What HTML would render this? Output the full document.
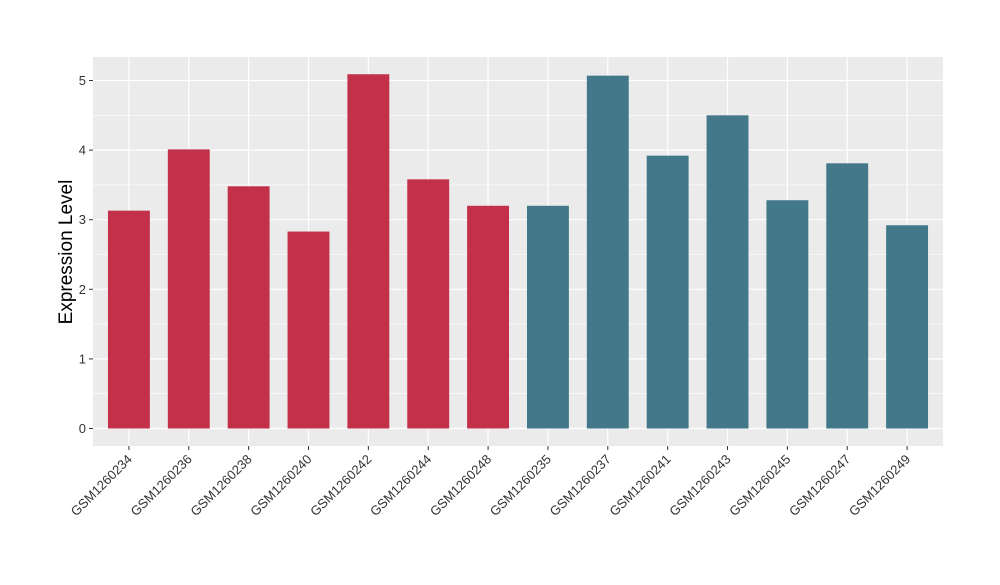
<!DOCTYPE html>
<html><head><meta charset="utf-8"><style>
body{margin:0;background:#fff;}
svg text{font-family:"Liberation Sans",Arial,sans-serif;}
</style></head><body>
<svg id="chart" width="1000" height="580" xmlns="http://www.w3.org/2000/svg">
<rect x="93" y="57" width="850" height="389" fill="#EBEBEB"/>
<g id="grid"></g><g id="bars"></g><g id="axes"></g>
<text x="72" y="252" font-size="19" text-anchor="middle" transform="rotate(-90 72 252)" fill="#000">Expression Level</text>
</svg>
<script>
const categories=["GSM1260234","GSM1260236","GSM1260238","GSM1260240","GSM1260242","GSM1260244","GSM1260248","GSM1260235","GSM1260237","GSM1260241","GSM1260243","GSM1260245","GSM1260247","GSM1260249"];
const values=[3.13,4.01,3.48,2.83,5.09,3.58,3.20,3.20,5.07,3.92,4.50,3.28,3.81,2.92];
const groups=["a","a","a","a","a","a","a","b","b","b","b","b","b","b"];
const yTicks=[0,1,2,3,4,5];
const colors={a:"#C3304A",b:"#42788A"};
const NS="http://www.w3.org/2000/svg";
const px0=93,px1=943,py0=57,py1=446;
const band=(px1-px0)/(categories.length-1+1.2);
function xs(i){return px0+(0.6+i)*band;}
function ys(v){return 428.5-v*69.6;}
function mk(t,a,p){const e=document.createElementNS(NS,t);for(const k in a)e.setAttribute(k,a[k]);p.appendChild(e);return e;}
const grid=document.getElementById('grid'),bars=document.getElementById('bars'),axes=document.getElementById('axes');
for(let k=0;k<yTicks.length;k++){
 const v=yTicks[k];
 if(k<yTicks.length){const ym=ys(v+0.5);if(ym>py0){const m=mk('line',{x1:px0,x2:px1,y1:ym,y2:ym,stroke:'#fff','stroke-width':0.6},grid);}}
 const g=mk('line',{x1:px0,x2:px1,y1:ys(v),y2:ys(v),stroke:'#fff','stroke-width':1.2},grid);
 
 
 const tk=mk('line',{x1:px0-4,x2:px0,y1:ys(v),y2:ys(v),stroke:'#333','stroke-width':1},axes);
 
 
 const t=mk('text',{x:px0-7,y:ys(v)+4.5,'font-size':13,'text-anchor':'end',fill:'#333'},axes);
 t.textContent=v;
 
 
}
categories.forEach((c,i)=>{
 const x=xs(i);
 const g=mk('line',{x1:x,x2:x,y1:py0,y2:py1,stroke:'#fff','stroke-width':1.2},grid);
 
 
 const w=0.7*band;
 const b=mk('rect',{x:x-w/2,y:ys(values[i]),width:w,height:ys(0)-ys(values[i]),fill:colors[groups[i]]},bars);
 
 
 const tk=mk('line',{x1:x,x2:x,y1:py1,y2:py1+4,stroke:'#333','stroke-width':1},axes);
 
 
 const t=mk('text',{x:x+4,y:py1+14,'font-size':13,'text-anchor':'end',fill:'#333',transform:`rotate(-45 ${x+4} ${py1+14})`},axes);
 t.textContent=c;
 
 
});
</script>
</body></html>
